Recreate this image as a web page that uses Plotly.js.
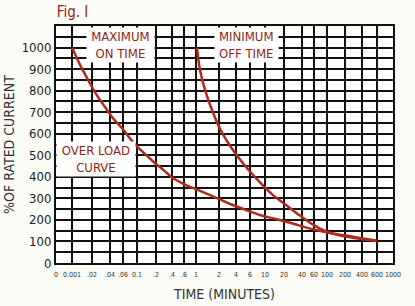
<!DOCTYPE html>
<html><head><meta charset="utf-8">
<script src="https://cdn.plot.ly/plotly-3.0.1.min.js"></script>
<style>html,body{margin:0;padding:0;background:#fcfcf7;}#chart{width:415px;height:306px;}
#chart text{font-stretch:condensed;}</style>
</head><body><div id="chart"></div>
<script>
// Time axis (minutes): tick labels and their positions on the chart's hand-drawn scale
const timeTickLabels = ["0","0.001",".02",".04",".06","0.1",".2",".4",".6","1","2","4","6","10","20","40","60","100","200","400","600","1000"];
const timeTickPos    = [56,72,92,110,123,137,156,172,184,196,219,236,250,265,284,302,314,327,345,362,377,393];
// % of rated current
const currentTicks = [0,100,200,300,400,500,600,700,800,900,1000];

// Curves (x on the time-scale positions above, y in % of rated current)
const overloadX = [72,80,88,96,105,113,122,130,138,147,155,164,172,186,200,215,230,245,260,275,290,315,347,377];
const overloadY = [1000,920,850,785,724,672,626,578,537,498,463,430,397,362,335,305,274,248,223,205,187,154,126,103];
const minOffX = [197,200,205,212,220,230,245,260,273,287,300,310,320,330,353,377];
const minOffY = [1000,897,804,710,623,544,451,374,315,266,220,187,160,140,117,103];

const red = '#ad2a1d';
const txt = '#8c2418';
const font = 'DejaVu Sans, sans-serif';

const yGrid = [];
for (let v = 0; v <= 1100; v += 50) yGrid.push(v);
const yText = yGrid.map(v => currentTicks.includes(v) ? String(v) : '');

const traces = [
  {x: overloadX, y: overloadY, mode:'lines', line:{color:red, width:2.5, shape:'spline', smoothing:1}, hoverinfo:'skip'},
  {x: minOffX, y: minOffY, mode:'lines', line:{color:red, width:2.5, shape:'spline', smoothing:1}, hoverinfo:'skip'}
];

const annBox = {showarrow:false, bgcolor:'#ffffff', borderpad:1, font:{family:font, size:13, color:txt}, xref:'x', yref:'y'};

const layout = {
  width:415, height:306,
  margin:{l:56, r:22, t:26, b:43},
  paper_bgcolor:'#fcfcf7', plot_bgcolor:'#ffffff',
  showlegend:false,
  font:{family:font, color:'#222'},
  xaxis:{
    range:[56,393], tickmode:'array', tickvals:timeTickPos, ticktext:timeTickLabels,
    showgrid:true, gridcolor:'#111', gridwidth:2, zeroline:false,
    showline:true, linecolor:'#111', linewidth:2, mirror:true,
    ticks:'', tickfont:{family:font, size:7, color:'#333'}, tickangle:0, ticklabelstandoff:4,
    title:{text:'TIME (MINUTES)', font:{family:font, size:14, color:'#333'}, standoff:11}
  },
  yaxis:{
    range:[0,1100], tickmode:'array', tickvals:yGrid, ticktext:yText,
    showgrid:true, gridcolor:'#111', gridwidth:2, zeroline:false,
    showline:true, linecolor:'#111', linewidth:2, mirror:true,
    ticks:'', tickfont:{family:font, size:13, color:'#222'},
    title:{text:'%OF RATED CURRENT', font:{family:font, size:14, color:'#333'}, standoff:0}
  },
  annotations:[
    Object.assign({}, annBox, {x:120, y:1010, text:'MAXIMUM<br>ON TIME'}),
    Object.assign({}, annBox, {x:246, y:1010, text:'MINIMUM<br>OFF TIME'}),
    Object.assign({}, annBox, {x:96, y:485, text:'OVER LOAD<br>CURVE'}),
    {xref:'paper', yref:'paper', x:-0.01, y:1.0, yanchor:'bottom', xanchor:'left', yshift:3, showarrow:false,
     text:'Fig. I', font:{family:font, size:15, color:txt}}
  ]
};

Plotly.newPlot('chart', traces, layout, {staticPlot:true, displayModeBar:false});
</script></body></html>
